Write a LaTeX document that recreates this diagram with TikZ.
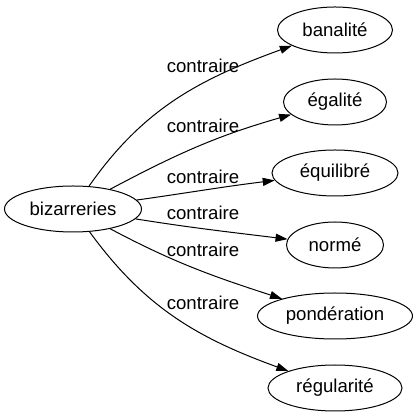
\documentclass[tikz,border=0pt]{standalone}
\usepackage{fontspec}
\setmainfont{Liberation Sans}
\usetikzlibrary{arrows.meta,shapes.geometric}

\begin{document}
\begin{tikzpicture}[x=1pt, y=1pt,
    font=\fontsize{18.6}{22}\selectfont,
    mot/.style={ellipse, draw, line width=1pt, inner sep=0pt,
      minimum height=46pt},
    lbl/.style={inner sep=0pt},
    fl/.style={-{Triangle[length=12pt, width=8pt]}, line width=1pt}]
    \useasboundingbox (0,0) rectangle (417,419);
    \node[mot, minimum width=137pt] (biz) at (73,210) {bizarreries};
    \node[mot, minimum width=115pt] (ban) at (335,389) {banalité};
    \node[mot, minimum width=103pt] (ega) at (335,317) {égalité};
    \node[mot, minimum width=126pt] (equ) at (335,246) {équilibré};
    \node[mot, minimum width=97pt]  (nor) at (335,174) {normé};
    \node[mot, minimum width=155pt] (pon) at (335,103) {pondération};
    \node[mot, minimum width=134pt] (reg) at (335,31)  {régularité};
    % relations
    \draw[fl] (biz) to[out=55, in=200] (ban);
    \draw[fl] (biz) to[out=28, in=196] (ega);
    \draw[fl] (biz) to[out=8, in=187] (equ);
    \draw[fl] (biz) to[out=-9, in=173] (nor);
    \draw[fl] (biz) to[out=-28, in=162] (pon);
    \draw[fl] (biz) to[out=-54, in=160] (reg);
    \node[lbl] (l1) at (203,353) {contraire};
    \node[lbl] (l2) at (203,293) {contraire};
    \node[lbl] (l3) at (203,242) {contraire};
    \node[lbl] (l4) at (203,206) {contraire};
    \node[lbl] (l5) at (203,169) {contraire};
    \node[lbl] (l6) at (203,116) {contraire};
  \end{tikzpicture}
\end{document}
